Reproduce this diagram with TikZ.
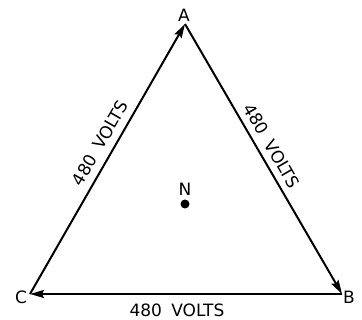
\documentclass[tikz,border=0pt]{standalone}
\usepackage{fontspec}
\setmainfont{DejaVu Sans}
\usetikzlibrary{arrows.meta}
\begin{document}
\begin{tikzpicture}[x=1pt,y=-1pt,
  lbl/.style={inner sep=0pt,font=\fontsize{17}{17}\selectfont},
  wire/.style={line width=2pt,-{Stealth[length=14pt,width=8pt,inset=2pt]}}]
\useasboundingbox (0,0) rectangle (362,320);
\coordinate (A) at (185,24);
\coordinate (B) at (342,294);
\coordinate (C) at (30,294);
\node[lbl] (la) at (184,15) {A};
\node[lbl] (lb) at (349,297) {B};
\node[lbl] (lc) at (21,297) {C};
\node[lbl] (ln) at (185,189) {N};
\fill (185,204) circle (4.5pt);
\draw[wire] (C) -- (A);
\draw[wire] (A) -- (B);
\draw[wire] (B) -- (C);
\node[lbl,rotate=60] (t1) at (100,143) {480\hspace{0.55em}VOLTS};
\node[lbl,rotate=-60] (t2) at (272,146) {480\hspace{0.55em}VOLTS};
\node[lbl] (t3) at (177,310) {480\hspace{0.55em}VOLTS};
\end{tikzpicture}
\end{document}
